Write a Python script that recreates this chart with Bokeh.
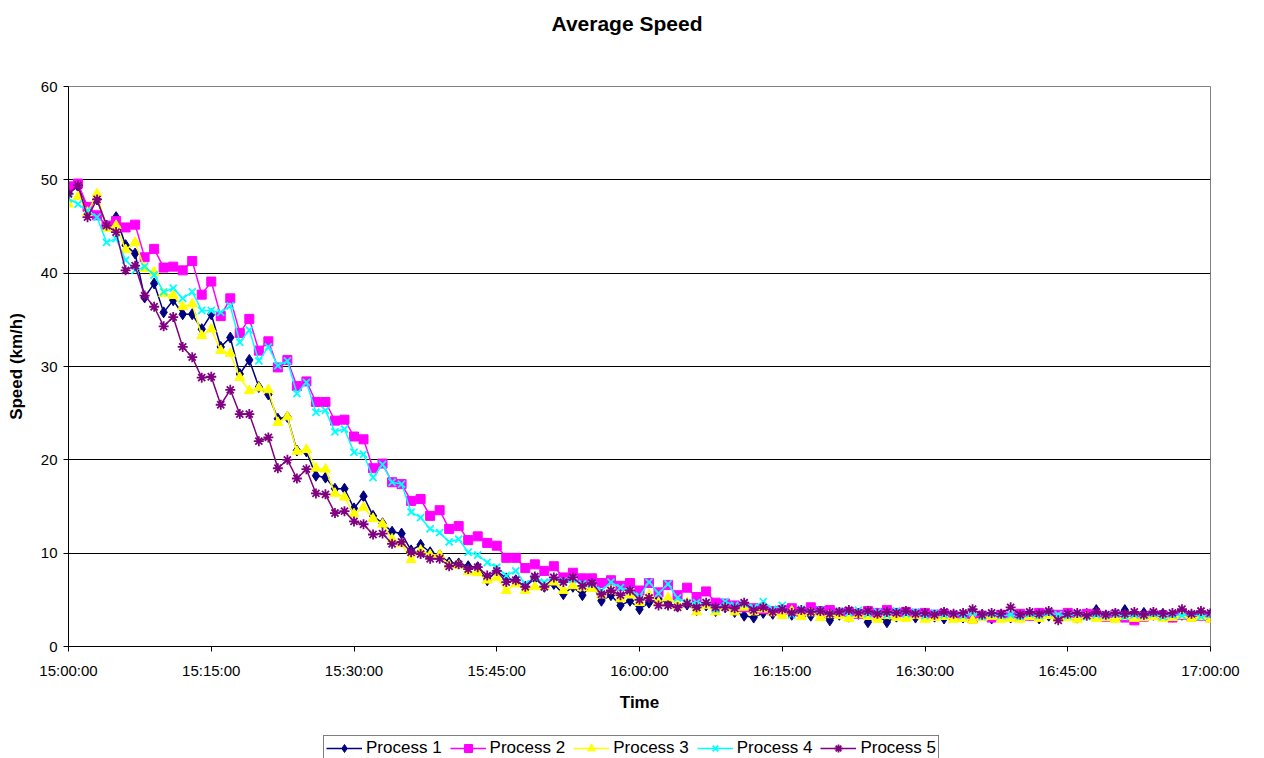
from bokeh.plotting import figure
from bokeh.models import Range1d, FixedTicker, Legend, LegendItem, Title
from bokeh.layouts import column
from bokeh.embed import file_html
from bokeh.resources import INLINE

# minutes after 15:00:00
minutes = list(range(121))
tick_minutes = [0, 15, 30, 45, 60, 75, 90, 105, 120]
tick_labels = ["15:00:00", "15:15:00", "15:30:00", "15:45:00", "16:00:00",
               "16:15:00", "16:30:00", "16:45:00", "17:00:00"]
y_ticks = [0, 10, 20, 30, 40, 50, 60]

series_names = ["Process 1", "Process 2", "Process 3", "Process 4", "Process 5"]

process_1 = [48.6, 49.3, 47.0, 47.9, 45.1, 46.0, 43.0, 42.1, 37.4, 38.9,
             35.8, 37.1, 35.6, 35.6, 34.0, 35.6, 32.1, 33.1, 29.2, 30.7,
             27.8, 27.0, 24.4, 24.6, 21.0, 20.9, 18.3, 18.1, 16.9, 16.9,
             14.8, 16.1, 14.0, 13.2, 12.3, 12.1, 10.3, 10.9, 10.1, 9.8,
             9.0, 8.9, 8.6, 8.5, 7.1, 8.1, 7.3, 7.1, 6.4, 7.3,
             6.4, 6.7, 5.6, 6.4, 5.5, 6.7, 4.9, 5.5, 4.4, 4.9,
             4.0, 4.7, 5.1, 4.6, 4.3, 4.5, 3.9, 4.4, 3.8, 4.2,
             3.7, 3.3, 3.1, 3.6, 3.5, 3.8, 3.4, 3.6, 3.3, 3.5,
             2.8, 3.4, 3.2, 3.5, 2.6, 3.3, 2.6, 3.2, 3.4, 3.1,
             3.3, 3.2, 3.0, 3.3, 3.1, 3.2, 3.4, 3.0, 3.3, 3.1,
             3.2, 3.4, 3.0, 3.3, 3.2, 3.4, 3.1, 3.5, 3.9, 3.3,
             3.4, 3.9, 3.3, 3.6, 3.4, 3.5, 3.2, 3.4, 3.3, 3.5,
             3.4]

process_2 = [49.3, 49.6, 47.1, 46.2, 45.1, 45.6, 44.9, 45.2, 41.7, 42.6,
             40.6, 40.7, 40.3, 41.3, 37.7, 39.1, 35.4, 37.3, 33.6, 35.1,
             31.7, 32.7, 29.9, 30.7, 27.9, 28.4, 26.2, 26.2, 24.2, 24.3,
             22.5, 22.2, 19.1, 19.6, 17.6, 17.4, 15.6, 15.8, 14.0, 14.6,
             12.6, 12.9, 11.4, 11.8, 11.1, 10.8, 9.5, 9.5, 8.4, 8.8,
             8.1, 8.6, 7.4, 7.9, 7.3, 7.3, 6.8, 7.1, 6.5, 6.8,
             6.0, 6.8, 5.8, 6.6, 5.5, 6.3, 5.3, 5.9, 4.7, 4.6,
             4.4, 4.2, 4.1, 4.0, 3.8, 3.9, 4.1, 3.7, 4.2, 3.8,
             3.9, 3.6, 3.7, 3.5, 3.8, 3.6, 3.9, 3.6, 3.7, 3.5,
             3.6, 3.4, 3.5, 3.3, 3.2, 3.0, 3.3, 3.1, 3.4, 3.2,
             3.5, 3.3, 3.6, 3.5, 3.4, 3.6, 3.3, 3.5, 3.4, 3.2,
             3.4, 3.1, 2.8, 3.2, 3.4, 3.3, 3.1, 3.4, 3.2, 3.3,
             3.1]

process_3 = [47.4, 48.2, 46.5, 48.5, 44.8, 45.1, 42.5, 43.3, 40.5, 40.1,
             37.8, 37.6, 36.4, 36.7, 33.3, 34.0, 31.7, 31.4, 28.8, 27.4,
             27.7, 27.5, 24.0, 24.6, 20.9, 21.1, 19.1, 19.0, 16.4, 16.0,
             14.2, 14.9, 13.7, 13.1, 11.5, 11.0, 9.3, 10.3, 9.8, 9.8,
             8.7, 8.7, 8.0, 7.9, 7.1, 7.4, 6.0, 6.7, 6.0, 6.4,
             6.4, 6.9, 6.0, 6.5, 6.3, 6.2, 5.5, 6.0, 5.1, 5.5,
             4.7, 5.5, 4.7, 5.2, 4.4, 4.7, 3.7, 4.4, 3.7, 4.2,
             3.7, 4.2, 3.7, 4.0, 3.6, 3.3, 3.8, 3.2, 3.6, 3.1,
             3.4, 3.3, 3.0, 3.4, 3.2, 2.9, 3.3, 3.1, 3.0, 3.3,
             2.9, 3.1, 3.2, 2.9, 3.0, 2.8, 3.1, 3.2, 2.9, 3.0,
             2.9, 3.2, 3.0, 3.3, 3.0, 3.1, 2.9, 3.2, 3.0, 3.1,
             2.9, 3.2, 3.0, 3.1, 3.2, 3.0, 3.1, 3.3, 3.0, 3.2,
             2.9]

process_4 = [48.0, 47.4, 46.7, 46.0, 43.3, 43.7, 41.4, 40.3, 40.7, 39.8,
             38.0, 38.4, 37.3, 38.0, 36.0, 36.0, 35.8, 36.5, 32.6, 33.9,
             30.6, 32.1, 30.1, 30.6, 27.1, 28.3, 25.1, 25.3, 23.0, 23.3,
             20.8, 20.6, 18.1, 19.5, 17.6, 17.4, 14.4, 13.8, 12.6, 12.2,
             11.2, 11.5, 10.1, 9.8, 9.0, 8.5, 7.6, 8.1, 6.7, 7.4,
             6.9, 7.4, 7.0, 7.2, 6.7, 6.7, 6.0, 6.9, 6.3, 6.0,
             5.4, 6.9, 5.7, 6.7, 5.2, 4.7, 4.7, 4.7, 4.0, 4.8,
             4.4, 4.6, 4.2, 4.8, 4.0, 4.4, 3.4, 4.0, 3.7, 3.9,
             3.5, 3.8, 3.6, 3.9, 3.5, 3.7, 3.4, 3.8, 3.5, 3.7,
             3.3, 3.6, 3.4, 3.5, 3.3, 3.6, 3.2, 3.5, 3.3, 3.4,
             3.2, 3.5, 3.3, 3.6, 3.4, 3.3, 3.5, 3.2, 3.4, 3.3,
             3.5, 3.2, 3.4, 3.3, 3.5, 3.2, 3.4, 3.3, 3.5, 3.2,
             3.4]

process_5 = [48.5, 49.4, 46.0, 47.9, 45.1, 44.4, 40.3, 40.8, 37.6, 36.4,
             34.3, 35.3, 32.1, 31.0, 28.8, 28.9, 25.9, 27.5, 24.9, 24.9,
             22.0, 22.4, 19.1, 20.0, 18.0, 19.0, 16.4, 16.3, 14.3, 14.5,
             13.4, 13.1, 12.0, 12.1, 11.0, 11.2, 10.1, 9.9, 9.4, 9.4,
             8.6, 8.8, 8.3, 8.5, 7.6, 8.1, 6.9, 7.1, 6.4, 7.5,
             6.4, 7.4, 6.9, 7.4, 6.5, 6.8, 5.6, 6.0, 5.5, 6.0,
             5.0, 5.2, 4.4, 4.4, 4.2, 4.6, 4.2, 4.7, 4.2, 4.2,
             4.1, 4.7, 3.9, 4.2, 3.7, 4.0, 3.6, 3.9, 3.7, 3.8,
             3.5, 3.7, 3.9, 3.6, 3.8, 3.5, 3.7, 3.6, 3.8, 3.5,
             3.6, 3.4, 3.7, 3.5, 3.6, 4.0, 3.4, 3.6, 3.5, 4.2,
             3.4, 3.7, 3.5, 3.8, 2.8, 3.5, 3.6, 3.3, 3.7, 3.4,
             3.6, 3.5, 3.7, 3.4, 3.7, 3.5, 3.6, 4.0, 3.5, 3.8,
             3.6]

colors = ["#000080", "#FF00FF", "#FFFF00", "#00FFFF", "#800080"]
markers = ["diamond", "square", "triangle", "x", "asterisk"]
sizes = [11, 9, 10, 10, 10]

FONT = "Liberation Sans"
all_series = [process_1, process_2, process_3, process_4, process_5]

# ---------------- main chart ----------------
p = figure(width=1264, height=735, output_backend="svg", toolbar_location=None,
           x_range=Range1d(0, 120), y_range=Range1d(0, 60),
           min_border_left=68, min_border_right=54, min_border_top=86,
           min_border_bottom=89, background_fill_color="white",
           border_fill_color="white", title=None)

# spacer between frame and title, then the title itself (outermost)
p.add_layout(Title(text=" ", text_font_size="1px", standoff=36), "above")
p.add_layout(Title(text="Average Speed", align="left", offset=483,
                   vertical_align="top", standoff=22, text_font=FONT,
                   text_font_size="21px", text_font_style="bold",
                   text_color="black"), "above")

p.outline_line_color = "#808080"
p.outline_line_width = 1

p.xgrid.visible = False
p.ygrid.ticker = FixedTicker(ticks=y_ticks)
p.ygrid.grid_line_color = "black"
p.ygrid.grid_line_width = 1

p.xaxis.ticker = FixedTicker(ticks=tick_minutes)
p.xaxis.major_label_overrides = {m: lab for m, lab in zip(tick_minutes, tick_labels)}
p.yaxis.ticker = FixedTicker(ticks=y_ticks)

for ax in (p.xaxis[0], p.yaxis[0]):
    ax.axis_line_color = "black"
    ax.major_tick_line_color = "black"
    ax.major_tick_out = 5
    ax.major_tick_in = 0
    ax.minor_tick_line_color = None
    ax.major_label_text_font = FONT
    ax.major_label_text_font_size = "15px"
    ax.major_label_text_color = "black"
    ax.axis_label_text_font = FONT
    ax.axis_label_text_font_size = "17px"
    ax.axis_label_text_font_style = "bold"
    ax.axis_label_text_color = "black"

p.xaxis.axis_label = "Time"
p.xaxis.major_label_standoff = 10
p.xaxis.axis_label_standoff = 11
p.yaxis.axis_label = "Speed (km/h)"
p.yaxis.major_label_standoff = 6
p.yaxis.axis_label_standoff = 12


def draw(fig, vals, c, m, s):
    lr = fig.line(minutes, vals, line_color=c, line_width=1.5)
    if m in ("x", "asterisk"):
        sr = fig.scatter(minutes, vals, marker=m, size=s, line_color=c, line_width=1.8)
    else:
        sr = fig.scatter(minutes, vals, marker=m, size=s, fill_color=c, line_color=c)
    return lr, sr


for vals, c, m, s in zip(all_series, colors, markers, sizes):
    draw(p, vals, c, m, s)

# ---------------- legend strip below the chart ----------------
leg = figure(width=1264, height=23, output_backend="svg", toolbar_location=None,
             x_range=Range1d(-1000, -999), y_range=Range1d(-1000, -999),
             min_border=0, x_axis_location=None,
             y_axis_location=None, background_fill_color="white",
             border_fill_color="white")
leg.outline_line_color = None
leg.grid.visible = False

items = []
for name, vals, c, m, s in zip(series_names, all_series, colors, markers, sizes):
    lr, sr = draw(leg, vals, c, m, s)
    items.append(LegendItem(label=name, renderers=[lr, sr]))

# the strip's frame is aligned with the chart's frame (starts at x=68)
legend = Legend(items=items, orientation="horizontal", location=(255, -3),
                label_text_font=FONT, label_text_font_size="17px",
                label_text_color="black",
                glyph_width=36, glyph_height=20, spacing=8, padding=2,
                label_standoff=4, border_line_color="black", border_line_width=1,
                background_fill_alpha=1.0, margin=0)
leg.add_layout(legend, "center")

layout = column(p, leg, spacing=0)
open("out.html", "w").write(file_html(layout, INLINE))
